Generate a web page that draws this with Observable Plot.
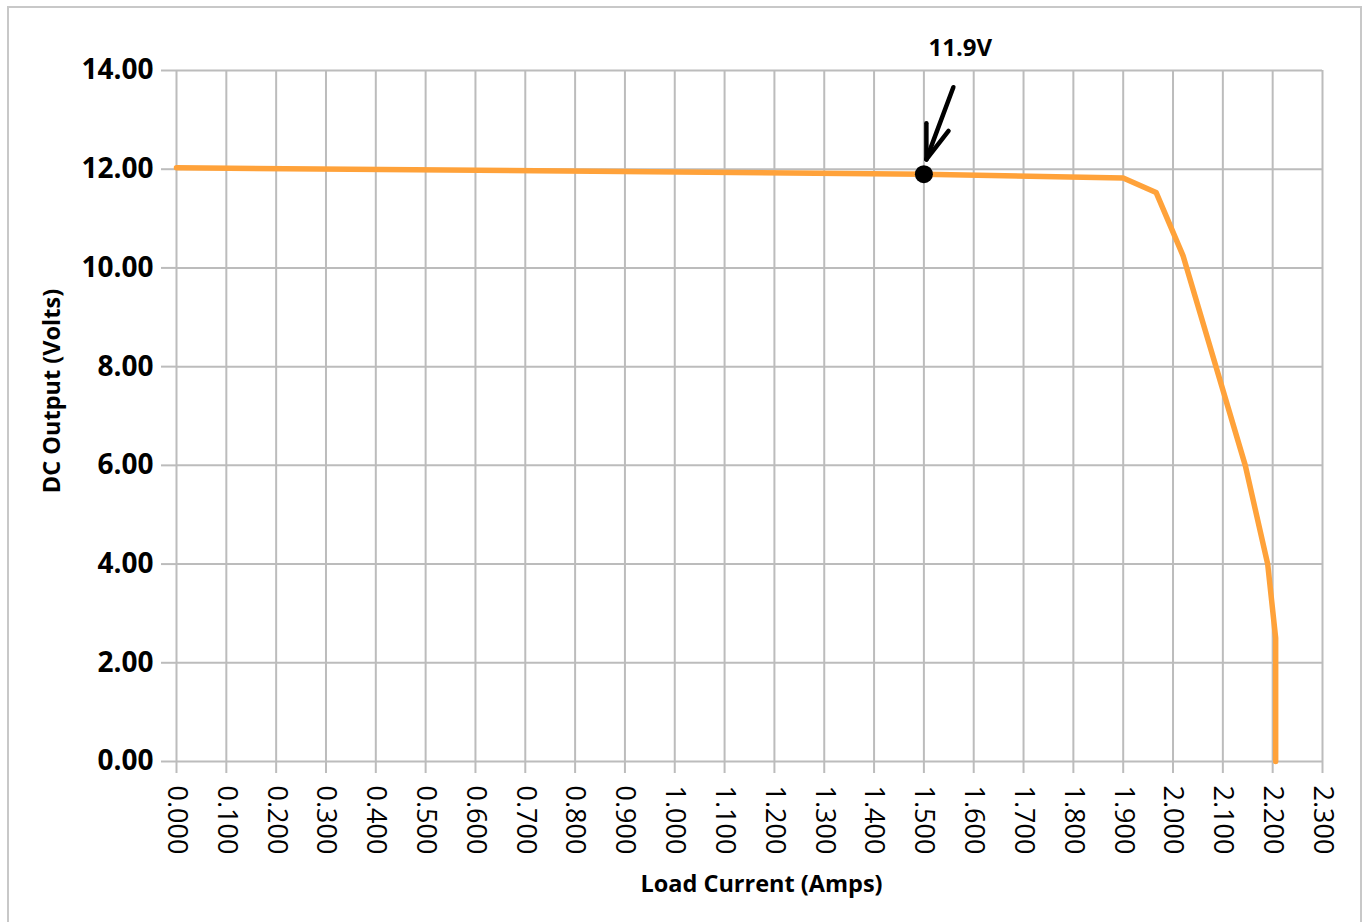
<!DOCTYPE html>
<html><head><meta charset="utf-8">
<script src="https://cdn.jsdelivr.net/npm/d3@7"></script>
<script src="https://cdn.jsdelivr.net/npm/@observablehq/plot@0.6"></script>
<style>
body{margin:0;background:#fff;}
#wrap{position:relative;width:1365px;height:922px;overflow:hidden}
#border{position:absolute;left:7px;top:6px;width:1355px;height:940px;border:2px solid #c8c8c8;box-sizing:border-box}
#wrap svg{position:absolute;left:0;top:0}
</style></head><body><div id="wrap"><div id="border"></div></div>
<script>
// Data
const current = [0, 1.5, 1.9, 1.966, 2.02, 2.145, 2.19, 2.206, 2.206];
const voltage = [12.03, 11.9, 11.82, 11.53, 10.25, 6.0, 4.0, 2.5, 0];
const xTicks = [0,0.1,0.2,0.3,0.4,0.5,0.6,0.7,0.8,0.9,1.0,1.1,1.2,1.3,1.4,1.5,1.6,1.7,1.8,1.9,2.0,2.1,2.2,2.3];
const yTicks = [0,2,4,6,8,10,12,14];
const markerX = [1.5];
const markerY = [11.9];
const annotationLabel = ["11.9V"];
const xTitle = "Load Current (Amps)";
const yTitle = "DC Output (Volts)";

const series = current.map((c, i) => ({current: c, voltage: voltage[i]}));
const marker = markerX.map((x, i) => ({x, y: markerY[i]}));
const tip = [{x: 1.505, y: 12.2}];
const barbs = [{x: 1.505, y: 12.2, angle: 0}, {x: 1.505, y: 12.2, angle: 38}];
const lineShape = {draw(context, l) { context.moveTo(0, 0); context.lineTo(0, -l); }};

const font = "'Open Sans', 'Noto Sans', sans-serif";

const chart = Plot.plot({
  width: 1365,
  height: 922,
  marginLeft: 176,
  marginRight: 43,
  marginTop: 70,
  marginBottom: 161,
  style: {fontFamily: font, background: "transparent", color: "#000", overflow: "visible"},
  x: {domain: [0, 2.3]},
  y: {domain: [0, 14]},
  marks: [
    Plot.gridX(xTicks, {stroke: "#bcbcbc", strokeOpacity: 1, strokeWidth: 2}),
    Plot.gridY(yTicks, {stroke: "#bcbcbc", strokeOpacity: 1, strokeWidth: 2}),
    Plot.axisX(xTicks, {tickFormat: d3.format(".3f"), tickSize: 12, tickPadding: 12, tickRotate: 90,
      stroke: "#bcbcbc", strokeWidth: 2, fontSize: 27, fill: "#000", label: null}),
    Plot.axisY(yTicks, {tickFormat: d3.format(".2f"), tickSize: 15, tickPadding: 8,
      stroke: "#bcbcbc", strokeWidth: 2, fontSize: 28, fontWeight: "bold", fill: "#000", label: null}),
    Plot.text([xTitle], {frameAnchor: "bottom", dx: 12, dy: 123, fontSize: 23.5, fontWeight: "bold", fill: "#000", lineAnchor: "middle", textAnchor: "middle"}),
    Plot.text([yTitle], {frameAnchor: "left", dx: -124, dy: -25, rotate: -90, fontSize: 23.5, fontWeight: "bold", fill: "#000", lineAnchor: "middle", textAnchor: "middle"}),
    Plot.line(series, {x: "current", y: "voltage", stroke: "#ffa23a", strokeWidth: 5.5, strokeLinecap: "round", strokeLinejoin: "round"}),
    Plot.dot(marker, {x: "x", y: "y", r: 9, fill: "#000", stroke: "none"}),
    Plot.vector(tip, {x: "x", y: "y", rotate: 20.5, length: 77, anchor: "start", shape: lineShape, stroke: "#000", strokeWidth: 4.5}),
    Plot.vector(barbs, {x: "x", y: "y", rotate: "angle", length: 36, anchor: "start", shape: lineShape, stroke: "#000", strokeWidth: 4.5}),
    Plot.text(annotationLabel, {x: 1.573, y: 14.44, fontSize: 24, fontWeight: "bold", fill: "#000", clip: false})
  ]
});
document.getElementById("wrap").appendChild(chart);
</script>
</body></html>
